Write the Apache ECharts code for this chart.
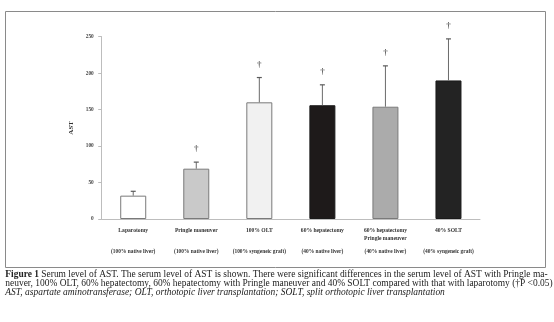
<!DOCTYPE html>
<html>
<head>
<meta charset="utf-8">
<script src="https://cdn.jsdelivr.net/npm/echarts@6/dist/echarts.min.js"></script>
<style>
html,body{margin:0;padding:0;background:#fff;}
#chart{width:554px;height:322px;}
</style>
</head>
<body>
<div id="chart"></div>
<script>
// ---- data ----
var groups = ['Laparotomy', 'Pringle maneuver', '100% OLT', '60% hepatectomy', '60% hepatectomy\nPringle maneuver', '40% SOLT'];
var subLabels = ['(100% native liver)', '(100% native liver)', '(100% syngeneic graft)', '(40% native liver)', '(40% native liver)', '(40% syngeneic graft)'];
var astMean = [32, 69, 160, 156, 154, 190];
var astSD = [6, 9, 34, 28, 56, 57];
var significant = [false, true, true, true, true, true];
var yTicks = [0, 50, 100, 150, 200, 250];
var barColors = ['#ffffff', '#c9c9c9', '#f1f1f1', '#1e1a1a', '#ababab', '#232323'];
var captionLines = [
  'Serum level of AST. The serum level of AST is shown. There were significant differences in the serum level of AST with Pringle ma-',
  'neuver, 100% OLT, 60% hepatectomy, 60% hepatectomy with Pringle maneuver and 40% SOLT compared with that with laparotomy (\u2020P <0.05)',
  'AST, aspartate aminotransferase; OLT, orthotopic liver transplantation; SOLT, split orthotopic liver transplantation'
];

var serif = '"Liberation Serif", "Times New Roman", serif';
var chart = echarts.init(document.getElementById('chart'), null, {renderer: 'canvas'});

var barData = astMean.map(function (v, i) {
  return {
    value: v,
    itemStyle: {
      color: barColors[i],
      borderColor: i < 3 || i === 4 ? '#7a7a7a' : '#1a1a1a',
      borderWidth: 1
    }
  };
});
var errData = astMean.map(function (v, i) { return [i, v, v + astSD[i], significant[i] ? 1 : 0]; });

var option = {
  animation: false,
  backgroundColor: '#fff',
  grid: {left: 101.7, right: 74, top: 36.7, bottom: 103, containLabel: false},
  xAxis: [{
    type: 'category',
    data: groups,
    axisLine: {lineStyle: {color: '#bdbdbd', width: 1}},
    axisTick: {show: false},
    axisLabel: {
      interval: 0, margin: 8, fontFamily: serif, fontWeight: 'bold',
      fontSize: 5.6, lineHeight: 7.7, color: '#333', verticalAlign: 'top'
    }
  }, {
    type: 'category',
    data: subLabels,
    position: 'bottom',
    offset: 21,
    axisLine: {show: false},
    axisTick: {show: false},
    axisLabel: {
      interval: 0, margin: 8, fontFamily: serif, fontWeight: 'bold',
      fontSize: 5.4, lineHeight: 7.7, color: '#333', verticalAlign: 'top'
    }
  }],
  yAxis: {
    type: 'value',
    min: yTicks[0], max: yTicks[yTicks.length - 1], interval: yTicks[1] - yTicks[0],
    name: 'AST', nameLocation: 'middle', nameGap: 22,
    nameTextStyle: {fontFamily: serif, fontWeight: 'bold', fontSize: 7, color: '#333'},
    axisLine: {show: true, lineStyle: {color: '#bdbdbd', width: 1}},
    axisTick: {show: true, length: 3.5, lineStyle: {color: '#bdbdbd'}},
    axisLabel: {margin: 8, fontFamily: serif, fontWeight: 'bold', fontSize: 5.3, color: '#444'},
    splitLine: {show: false}
  },
  series: [{
    type: 'bar',
    xAxisIndex: 0,
    data: barData,
    barWidth: 26
  }, {
    type: 'custom',
    xAxisIndex: 0,
    data: errData,
    encode: {x: 0, y: [1, 2]},
    z: 3,
    renderItem: function (params, api) {
      var i = api.value(0);
      var base = api.coord([i, api.value(1)]);
      var top = api.coord([i, api.value(2)]);
      var children = [{
        type: 'line',
        shape: {x1: base[0], y1: base[1], x2: top[0], y2: top[1]},
        style: {stroke: '#6a6a6a', lineWidth: 1}
      }, {
        type: 'line',
        shape: {x1: top[0] - 2.5, y1: top[1], x2: top[0] + 2.5, y2: top[1]},
        style: {stroke: '#5a5a5a', lineWidth: 1.2}
      }];
      if (api.value(3)) {
        children.push({
          type: 'text',
          style: {
            text: '\u2020', x: top[0], y: top[1] - 13,
            align: 'center', verticalAlign: 'middle',
            font: 'bold 9px ' + serif, fill: '#666'
          }
        });
      }
      return {type: 'group', children: children};
    }
  }],
  graphic: [{
    type: 'rect',
    shape: {x: 5.5, y: 11.5, width: 540, height: 256},
    style: {fill: null, stroke: '#8a8a8a', lineWidth: 1},
    silent: true
  }, {
    type: 'text',
    left: 5.3, top: 270.3,
    style: {
      text: '{b|Figure 1} ' + captionLines[0],
      font: '9.45px ' + serif, fill: '#222',
      rich: {b: {fontFamily: serif, fontWeight: 'bold', fontSize: 9.45, fill: '#222'}}
    }
  }, {
    type: 'text',
    left: 5.3, top: 279.5,
    style: {text: captionLines[1], font: '9.45px ' + serif, fill: '#222'}
  }, {
    type: 'text',
    left: 5.3, top: 288.4,
    style: {text: captionLines[2], font: 'italic 9.45px ' + serif, fill: '#222'}
  }]
};
chart.setOption(option);
</script>
</body>
</html>
